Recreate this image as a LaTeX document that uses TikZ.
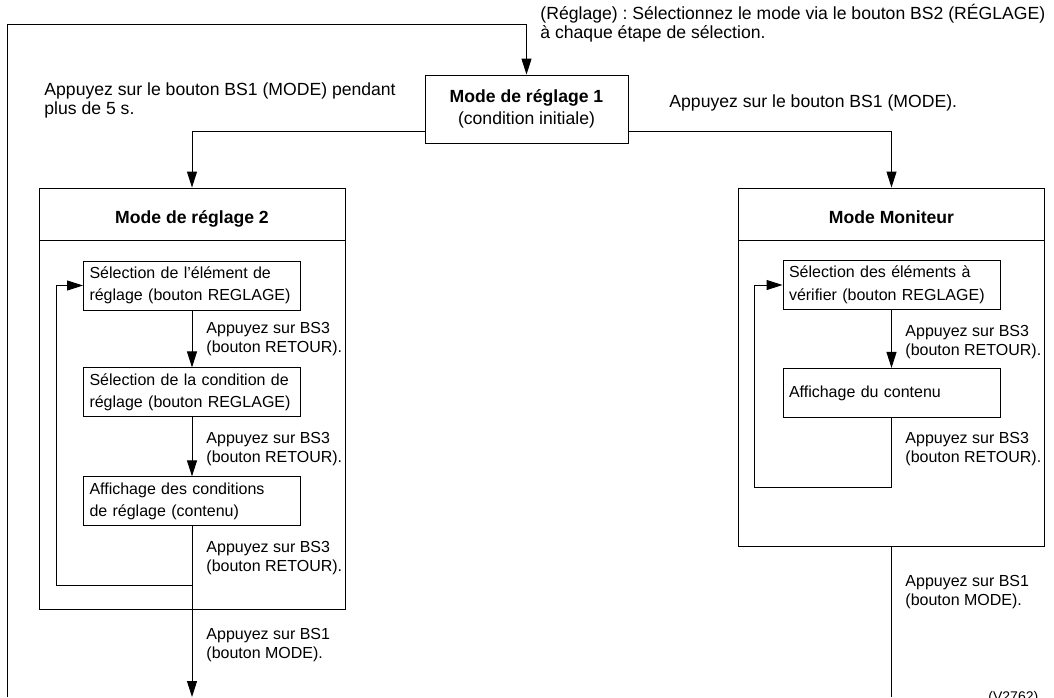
\documentclass[tikz,border=0pt]{standalone}
\usepackage{fontspec}
\setmainfont{Liberation Sans}
\usetikzlibrary{arrows.meta, positioning}
\frenchspacing

\begin{document}
\begin{tikzpicture}[
    x=1pt, y=-1pt,
    line width=0.9pt,
    box/.style={draw, rectangle, minimum width=217pt, minimum height=49pt, text width=205pt, inner xsep=6pt, align=left, font=\fontsize{16}{22.5}\selectfont},
    modebox/.style={draw, rectangle, minimum width=306pt},
    title/.style={anchor=base, inner sep=0pt, font=\bfseries\fontsize{17.6}{21}\selectfont},
    note/.style={align=left, inner sep=0pt, anchor=base west, font=\fontsize{17.6}{19}\selectfont},
    smallnote/.style={align=left, inner sep=0pt, anchor=base west, font=\fontsize{16}{19}\selectfont},
    arrow/.style={-{Triangle[length=16pt, width=10pt]}}
]
\useasboundingbox (0,0) rectangle (1054,697);

% Nodes
\node[draw, minimum width=203pt, minimum height=68pt, align=center, inner sep=0pt, font=\fontsize{17.6}{22}\selectfont] (m1) at (526.5,109) {{\bfseries Mode de réglage 1}\\(condition initiale)};
\node[modebox, minimum height=421pt] (mode2) at (192,398.5) {};
\node[modebox, minimum height=358pt] (mon) at (891.5,367) {};
\node[title] (t2) at (192,223) {Mode de réglage 2};
\node[title] (tm) at (891.5,223) {Mode Moniteur};

\node[box] (r1) at (192,285.5) {Sélection de l’élément de\\réglage (bouton REGLAGE)};
\node[box, below=57pt of r1] (r2) {Sélection de la condition de\\réglage (bouton REGLAGE)};
\node[box, below=59pt of r2] (r3) {Affichage des conditions\\de réglage (contenu)};

\node[box] (v1) at (891.5,285) {Sélection des éléments à\\vérifier (bouton REGLAGE)};
\node[box, below=58pt of v1] (v2) {Affichage du contenu};

\coordinate (ret) at (7,697);
\coordinate (loop) at (7,24);
\coordinate (j2) at (192,585);
\coordinate (out2) at (192,697);
\coordinate (jm) at (891.5,487);
\coordinate (outm) at (891.5,697);

% Labels
\node[note] (lset) at (540,38) {(Réglage) : Sélectionnez le mode via le bouton BS2 (RÉGLAGE)\\à chaque étape de sélection.};
\node[note] (llong) at (44,114) {Appuyez sur le bouton BS1 (MODE) pendant\\plus de 5 s.};
\node[note] (lmode) at (669,107) {Appuyez sur le bouton BS1 (MODE).};
\node[smallnote] (la) at (206,352) {Appuyez sur BS3\\(bouton RETOUR).};
\node[smallnote] (lb) at (206,462) {Appuyez sur BS3\\(bouton RETOUR).};
\node[smallnote] (lc) at (206,571) {Appuyez sur BS3\\(bouton RETOUR).};
\node[smallnote] (ld) at (206,658) {Appuyez sur BS1\\(bouton MODE).};
\node[smallnote] (ma) at (905,355) {Appuyez sur BS3\\(bouton RETOUR).};
\node[smallnote] (mb) at (905,462) {Appuyez sur BS3\\(bouton RETOUR).};
\node[smallnote] (mc) at (905,605) {Appuyez sur BS1\\(bouton MODE).};
\node[anchor=base west, inner sep=0pt, font=\fontsize{14}{14}\selectfont] (ref) at (988,701) {(V2762)};

% Dividers
\draw (mode2.west |- 0,240) -- (mode2.east |- 0,240);
\draw (mon.west |- 0,240) -- (mon.east |- 0,240);

% Arrows
\draw[arrow] (ret) -- (loop) -| (m1.north);
\draw[arrow] ([yshift=-22pt]m1.west) -| (mode2.north);
\draw[arrow] ([yshift=-22pt]m1.east) -| (mon.north);
\draw[arrow] (r1) -- (r2);
\draw[arrow] (r2) -- (r3);
\draw[arrow] (r3) -- (out2);
\draw[arrow] (j2) -- (56,585) |- (r1);
\draw[arrow] (v1) -- (v2);
\draw[arrow] (v2) -- (jm) -- (754,487) |- (v1);
\draw (mon.south) -- (outm);

\end{tikzpicture}
\end{document}
